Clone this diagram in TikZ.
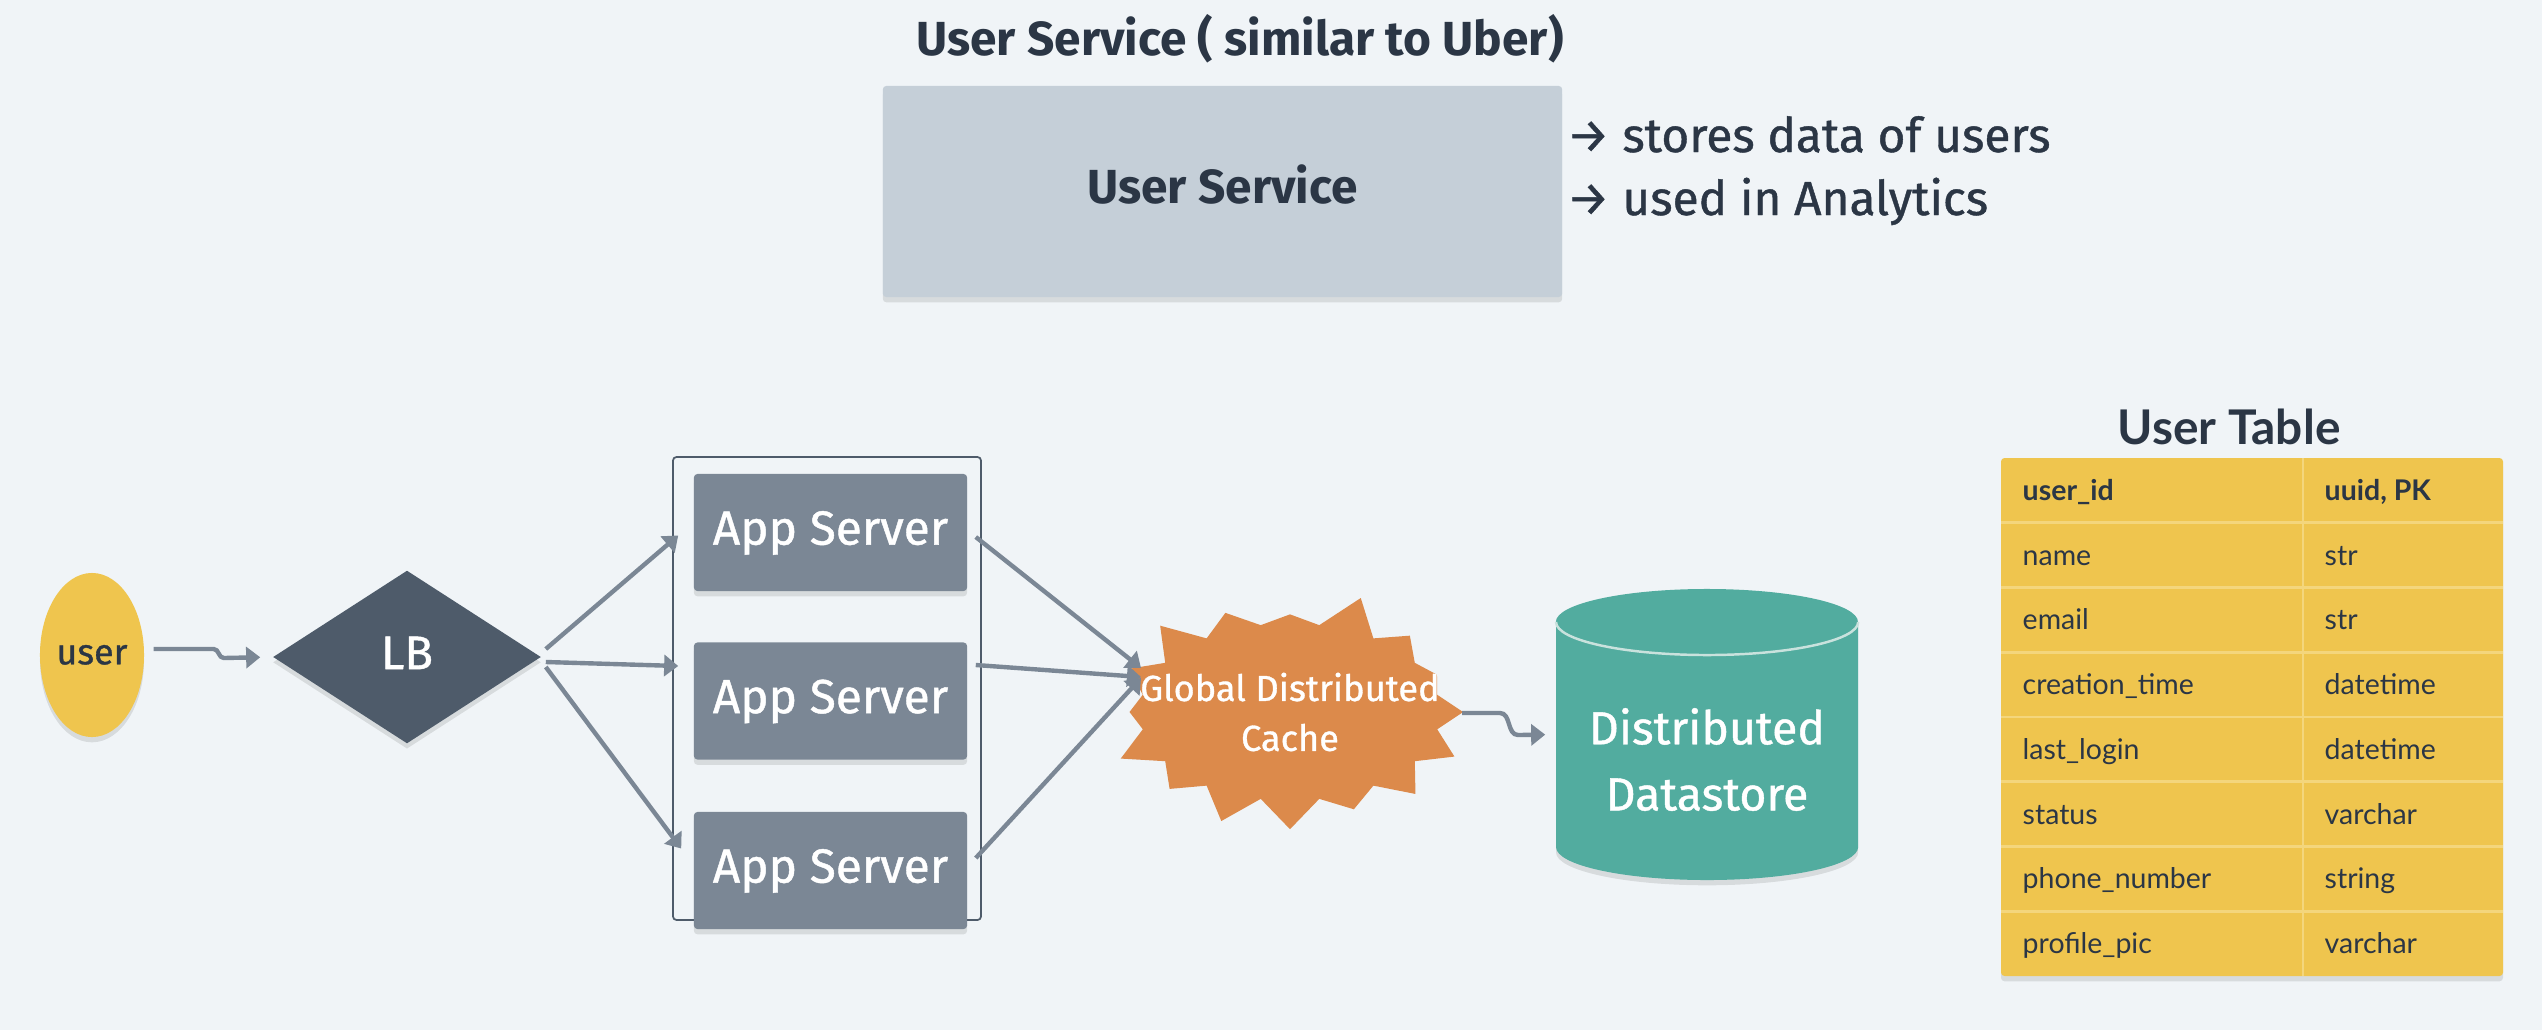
\documentclass[tikz,border=0pt]{standalone}
\usepackage{fontspec}
\setmainfont{Fira Sans}
\newfontfamily\labelfont[FakeBold=0.9]{Fira Sans}
\newfontfamily\tablefont{Lato}
\usetikzlibrary{shapes.geometric,shapes.symbols,arrows.meta,calc,shadows}

\definecolor{bgcol}{HTML}{F0F4F7}
\definecolor{ink}{HTML}{2B3645}
\definecolor{svcgray}{HTML}{C5CFD8}
\definecolor{appgray}{HTML}{7B8795}
\definecolor{lbslate}{HTML}{4E5B6A}
\definecolor{useryellow}{HTML}{EFC54E}
\definecolor{cacheorange}{HTML}{DC8A4B}
\definecolor{storeteal}{HTML}{52AC9F}
\definecolor{rimcol}{HTML}{C9E2DD}
\definecolor{gridyellow}{HTML}{F4D67C}

\tikzset{
  softshadow/.style={drop shadow={shadow xshift=0pt, shadow yshift=-1.5pt,
      opacity=0.10, fill=black}},
  conn/.style={draw=appgray, line width=1.25pt,
    -{Triangle[length=4pt,width=6pt]}},
  headline/.style={text=ink, font=\bfseries\fontsize{13.6}{16}\selectfont,
    inner sep=0pt},
  note/.style={text=ink, font=\labelfont\fontsize{13.6}{16}\selectfont, inner sep=0pt},
  svcbox/.style={rectangle, fill=svcgray, rounded corners=1pt,
    minimum width=6.79cm, minimum height=2.11cm, text=ink,
    font=\bfseries\fontsize{13.6}{16}\selectfont,
    text height=0.69em, text depth=0pt, softshadow},
  userblob/.style={ellipse, fill=useryellow, minimum width=1.04cm,
    minimum height=1.64cm, inner sep=0pt, text=ink,
    font=\labelfont\fontsize{10.2}{12}\selectfont, text height=0.53em, text depth=0pt,
    softshadow},
  lbdiamond/.style={diamond, fill=lbslate, minimum width=2.68cm,
    minimum height=1.73cm, inner sep=0pt, text=white,
    font=\labelfont\fontsize{13.4}{16}\selectfont, text height=0.69em, text depth=0pt,
    softshadow},
  appbox/.style={rectangle, fill=appgray, rounded corners=1pt,
    minimum width=2.73cm, minimum height=1.17cm, text=white,
    font=\labelfont\fontsize{13.6}{16}\selectfont, text height=0.69em, text depth=0pt,
    softshadow},
  pool/.style={draw=lbslate, line width=0.5pt, rounded corners=1pt},
  cacheburst/.style={starburst, starburst points=16, random starburst=23,
    starburst point height=0.35cm, fill=cacheorange, inner sep=0pt,
    minimum width=3.70cm, minimum height=2.47cm, text=white, align=center,
    font=\labelfont\fontsize{10.3}{14.2}\selectfont},
  storebody/.style={rectangle, minimum width=3.02cm, minimum height=2.91cm,
    inner sep=0pt},
  storetext/.style={text=white, align=center,
    font=\labelfont\fontsize{13.2}{18.8}\selectfont},
  rim/.style={draw=rimcol, line width=0.7pt},
  tabtitle/.style={text=ink, font=\tablefont\bfseries\fontsize{13.6}{16}\selectfont,
    inner sep=0pt},
  cell/.style={text=ink, font=\tablefont\fontsize{8.1}{10}\selectfont,
    inner sep=0pt},
  headcell/.style={cell, font=\tablefont\bfseries\fontsize{8.1}{10}\selectfont}
}

\begin{document}
\begin{tikzpicture}[x = {(0.01cm,0cm)},
  y = {(0cm,-0.01cm)}]

  % canvas
  \fill[bgcol] (0,0) rectangle (2542,1030);
  \useasboundingbox (0,0) rectangle (2542,1030);

  \def\rowh{64.75}
  \def\tabtop{458}

  % user service
  \node[headline, anchor=base] (title) at (1240,55) {User Service ( similar to Uber)};
  \node[svcbox] (svc) at (1222.5,191.5) {User Service};
  \node[note, anchor=base west] (note1) at (1566,152) {→ stores data of users};
  \node[note, anchor=base west] (note2) at (1566,215) {→ used in Analytics};

  % app server pool
  \draw[pool] (673,457) rectangle (981,920);

  % nodes
  \node[userblob] (user) at (92,655) {user};
  \node[lbdiamond] (lb) at (407,657) {LB};
  \foreach \n/\y in {1/532.5,2/701,3/870.5}
  \node[appbox] (app\n) at (830.5,\y) {App Server};
  \node[cacheburst] (cache) at (1290,712)
  {\makebox[0pt]{Global Distributed}\\\makebox[0pt]{Cache}};

  % datastore
  \fill[storeteal, softshadow] (1556,622) -- (1556,847)
  arc[start angle=180, end angle=360, x radius=1.51cm, y radius=0.33cm]
  -- (1858,622)
  arc[start angle=0, end angle=180, x radius=1.51cm, y radius=0.33cm] -- cycle;
  \draw[rim] (1556,622)
  arc[start angle=180, end angle=360, x radius=1.51cm, y radius=0.33cm];
  \node[storebody] (ds) at (1707,734.5) {};
  \node[storetext] (dslabel) at ($(ds.center)+(0,25)$) {Distributed\\Datastore};

  % connectors
  \draw[conn, shorten >=0.12cm] ($(user.east)+(9,-6)$) -- ++(60,0)
  to[out=0,in=180] ++(10,9) -- (lb.west);
  \draw[conn] ($(lb.east)+(4,-8)$) -- ($(app1.west)+(-15,3)$);
  \draw[conn] ($(lb.east)+(4,5)$) -- ($(app2.west)+(-15,-35)$);
  \draw[conn] ($(lb.east)+(4,10)$) -- ($(app3.west)+(-12,-22)$);
  \draw[conn] ($(app1.east)+(8,4.5)$) -- ($(cache.center)+(-149,-44)$);
  \draw[conn] ($(app2.east)+(8,-36)$) -- ($(cache.center)+(-149,-35)$);
  \draw[conn] ($(app3.east)+(8,-12.5)$) -- ($(cache.center)+(-149,-34)$);
  \draw[conn, shorten >=0.10cm] ($(cache.center)+(172,1)$) -- ++(38,0)
  to[out=0,in=180] ++(18,22) -- (ds.west);

  % user table
  \node[tabtitle, anchor=base] (tabname) at (2229,444) {User Table};
  \fill[useryellow, rounded corners=1pt, softshadow]
  (2001,\tabtop) rectangle (2503,976);
  \foreach \k in {1,...,7}
  \draw[gridyellow, line width=0.8pt] (2001,\tabtop+\rowh*\k) -- (2503,\tabtop+\rowh*\k);
  \draw[gridyellow, line width=0.8pt] (2303,\tabtop) -- (2303,976);

  \node[headcell, anchor=base west] (f1) at (2022,\tabtop+\rowh*0.5+10) {user\_id};
  \node[headcell, anchor=base west] (t1) at (2324,\tabtop+\rowh*0.5+10) {uuid, PK};
  \foreach \fld/\typ [count=\i from 2] in {name/str, email/str,
    creation\_time/datetime, last\_login/datetime, status/varchar,
    phone\_number/string, profile\_pic/varchar}
  {
  \node[cell, anchor=base west] (f\i) at (2022,\tabtop+\rowh*\i-\rowh*0.5+10) {\fld};
  \node[cell, anchor=base west] (t\i) at (2324,\tabtop+\rowh*\i-\rowh*0.5+10) {\typ};
  }
\end{tikzpicture}
\end{document}
